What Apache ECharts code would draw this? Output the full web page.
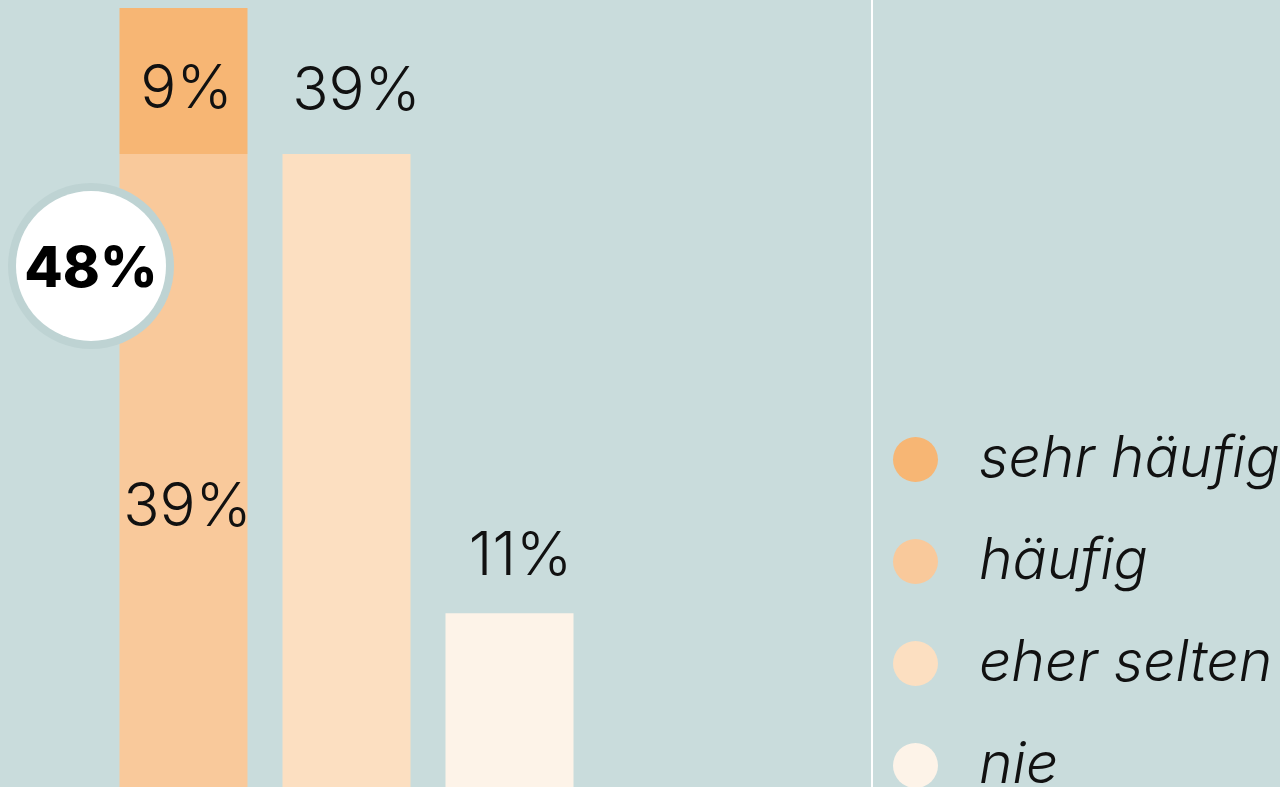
<!DOCTYPE html>
<html><head><meta charset="utf-8">
<script src="https://cdn.jsdelivr.net/npm/echarts@6/dist/echarts.min.js"></script>
<style>html,body{margin:0;padding:0;background:#C9DCDC;}#c{width:1280px;height:787px;}</style>
</head><body><div id="c"></div>
<script>
const categories = ['A', 'B', 'C'];
const seriesNames = ['sehr häufig', 'häufig', 'eher selten', 'nie'];
const sehrHaeufig = [9, '-', '-'];
const haeufig = [39, '-', '-'];
const eherSelten = ['-', 39, '-'];
const nie = ['-', '-', 10.7];
const totalLabel = '48%';
const colors = ['#F7B674', '#F9C99B', '#FCDFC1', '#FDF3E8'];

const chart = echarts.init(document.getElementById('c'));
const labelFont = {fontFamily: 'Inter', fontWeight: 300, fontSize: 60, color: '#111'};
const fmt = p => Math.round(p.value) + '%';
chart.setOption({
  backgroundColor: '#C9DCDC',
  animation: false,
  grid: {left: 102, right: 689, top: 8, bottom: 0},
  xAxis: {type: 'category', data: categories, show: false},
  yAxis: {type: 'value', min: 0, max: 48, show: false, splitLine: {show: false}},
  legend: {
    orient: 'vertical', left: 893, top: 431, width: 387, height: 420, padding: 0, itemWidth: 45, itemHeight: 45, itemGap: 45,
    icon: 'circle', data: seriesNames,
    textStyle: {fontFamily: 'Inter', fontWeight: 300, fontStyle: 'italic', fontSize: 57, color: '#111', padding: [0, 0, 0, 36]}
  },
  series: [
    {name: 'häufig', type: 'bar', stack: 's', barWidth: 128, data: haeufig, itemStyle: {color: colors[1]},
      label: Object.assign({show: true, position: 'inside', offset: [4, 37], formatter: fmt}, labelFont)},
    {name: 'sehr häufig', type: 'bar', stack: 's', barWidth: 128, data: sehrHaeufig, itemStyle: {color: colors[0]},
      label: Object.assign({show: true, position: 'inside', offset: [3, 9], formatter: fmt}, labelFont)},
    {name: 'eher selten', type: 'bar', stack: 's', barWidth: 128, data: eherSelten, itemStyle: {color: colors[2]},
      label: Object.assign({show: true, position: 'top', distance: 32, offset: [10, 0], formatter: fmt}, labelFont)},
    {name: 'nie', type: 'bar', stack: 's', barWidth: 128, data: nie, itemStyle: {color: colors[3]},
      label: Object.assign({show: true, position: 'top', distance: 26, offset: [11, 0], formatter: fmt}, labelFont)}
  ],
  graphic: [
    {type: 'line', shape: {x1: 872, y1: 0, x2: 872, y2: 787}, style: {stroke: '#FFFFFF', lineWidth: 2}, z: 1},
    {type: 'circle', shape: {cx: 91, cy: 266, r: 83}, style: {fill: '#BED3D3'}, z: 10},
    {type: 'circle', shape: {cx: 91, cy: 266, r: 75}, style: {fill: '#FFFFFF'}, z: 11},
    {type: 'text', x: 91, y: 270, z: 12, style: {text: totalLabel, fontFamily: 'Inter', fontWeight: 800, fontSize: 56, fill: '#000', align: 'center', verticalAlign: 'middle'}}
  ]
});
</script></body></html>
